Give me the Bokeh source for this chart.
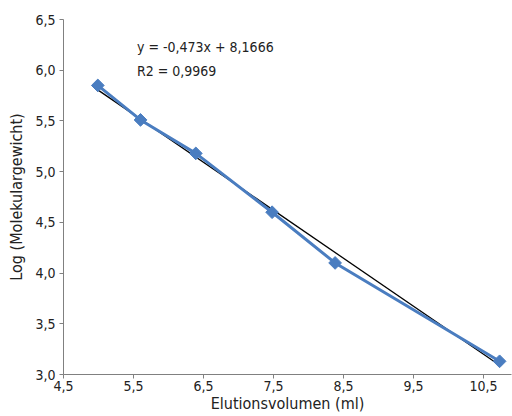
import math
from bokeh.plotting import figure
from bokeh.models import FixedTicker, Range1d, Label
from bokeh.embed import file_html
from bokeh.resources import INLINE

# Data
volume = [4.99, 5.60, 6.39, 7.48, 8.38, 10.73]
log_mw = [5.85, 5.51, 5.18, 4.60, 4.10, 3.13]
slope = -0.473
intercept = 8.1666
x_ticks = [4.5, 5.5, 6.5, 7.5, 8.5, 9.5, 10.5]
x_tick_labels = ["4,5", "5,5", "6,5", "7,5", "8,5", "9,5", "10,5"]
y_ticks = [3.0, 3.5, 4.0, 4.5, 5.0, 5.5, 6.0, 6.5]
y_tick_labels = ["3,0", "3,5", "4,0", "4,5", "5,0", "5,5", "6,0", "6,5"]
eq_text = "y = -0,473x + 8,1666"
r2_text = "R2 = 0,9969"

FONT = "DejaVu Sans Condensed"

p = figure(width=512, height=416, output_backend="svg", toolbar_location=None,
           x_range=Range1d(4.5, 10.9), y_range=Range1d(3.0, 6.5),
           min_border_left=63, min_border_right=1, min_border_top=19, min_border_bottom=42)
p.outline_line_color = None
p.xgrid.visible = False
p.ygrid.visible = False

# trendline
tx = [min(volume), max(volume)]
ty = [slope * v + intercept for v in tx]
p.line(tx, ty, line_color="black", line_width=1.3)

# data
p.line(volume, log_mw, line_color="#4a7dc0", line_width=3)
p.scatter(volume, log_mw, marker="square", angle=math.pi / 4, size=9,
          fill_color="#4a7dc0", line_color="#4a7dc0")

for ax, ticks, labels in ((p.xaxis, x_ticks, x_tick_labels), (p.yaxis, y_ticks, y_tick_labels)):
    ax.ticker = FixedTicker(ticks=ticks)
    ax.major_label_overrides = {t: l for t, l in zip(ticks, labels)}
    ax.minor_tick_line_color = None
    ax.axis_line_color = "#808080"
    ax.major_tick_line_color = "#808080"
    ax.major_tick_in = 0
    ax.major_tick_out = 4
    ax.major_label_text_font = FONT
    ax.major_label_text_font_size = "14px"
    ax.major_label_text_color = "#222222"
    ax.axis_label_text_font = FONT
    ax.axis_label_text_font_size = "16px"
    ax.axis_label_text_font_style = "normal"
    ax.axis_label_text_color = "#222222"

p.xaxis.axis_label = "Elutionsvolumen (ml)"
p.yaxis.axis_label = "Log (Molekulargewicht)"
p.xaxis.major_label_standoff = 2
p.xaxis.axis_label_standoff = 0
p.yaxis.major_label_standoff = 4
p.yaxis.axis_label_standoff = 6

p.add_layout(Label(x=5.55, y=6.15, text=eq_text, text_font=FONT, text_font_size="14px",
                   text_color="#222222", text_baseline="bottom"))
p.add_layout(Label(x=5.55, y=5.91, text=r2_text, text_font=FONT, text_font_size="14px",
                   text_color="#222222", text_baseline="bottom"))

open("out.html", "w").write(file_html(p, INLINE))
